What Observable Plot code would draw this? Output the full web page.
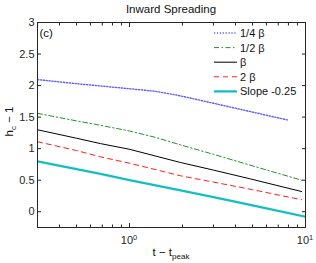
<!DOCTYPE html>
<html><head><meta charset="utf-8">
<script src="https://cdn.jsdelivr.net/npm/d3@7"></script>
<script src="https://cdn.jsdelivr.net/npm/@observablehq/plot@0.6"></script>
<style>body{margin:0;background:#fff}</style>
</head><body><div id="chart"></div>
<script>
// Data
const tQuarter = [0.3, 0.5, 1, 1.4, 1.85, 3, 5, 7.9];
const hQuarter = [2.095, 2.03, 1.95, 1.91, 1.85, 1.72, 1.58, 1.455];
const tHalf = [0.3, 0.5, 0.684, 1, 1.4, 1.95, 3, 5.92, 9.5];
const hHalf = [1.56, 1.44, 1.37, 1.28, 1.18, 1.06, 0.91, 0.667, 0.50];
const tBeta = [0.3, 0.5, 0.684, 1, 1.95, 3, 4.87, 9.5];
const hBeta = [1.30, 1.165, 1.08, 0.99, 0.78, 0.66, 0.52, 0.32];
const tTwo = [0.3, 0.5, 0.684, 1, 1.95, 3, 5, 9.5];
const hTwo = [1.11, 0.97, 0.87, 0.77, 0.57, 0.47, 0.35, 0.19];
const tSlope = [0.3, 0.684, 1, 1.95, 3, 5, 10];
const hSlope = [0.80, 0.60, 0.50, 0.34, 0.23, 0.10, -0.08];
const seriesNames = ["1/4 β", "1/2 β", "β", "2 β", "Slope -0.25"];
const xMajor = [1, 10];
const xMajorLabels = ["0", "1"];
const xMinor = [0.3, 0.4, 0.5, 0.6, 0.7, 0.8, 0.9, 2, 3, 4, 5, 6, 7, 8, 9];
const yTicks = [0, 0.5, 1, 1.5, 2, 2.5, 3];
const titleText = "Inward Spreading";
const panelText = "(c)";

const tArrs = [tQuarter, tHalf, tBeta, tTwo, tSlope];
const hArrs = [hQuarter, hHalf, hBeta, hTwo, hSlope];
const styles = [
  {stroke: "#5c5cff", strokeWidth: 1.4, strokeDasharray: "1.2,1.7"},
  {stroke: "#22922a", strokeWidth: 1, strokeDasharray: "5,2.5,1.5,2.5"},
  {stroke: "#000000", strokeWidth: 1},
  {stroke: "#ff2020", strokeWidth: 1, strokeDasharray: "5,4"},
  {stroke: "#14bfc0", strokeWidth: 2.3}
];
const series = seriesNames.map((name, k) => tArrs[k].map((t, i) => ({name, t, h: hArrs[k][i]})));
const axisColor = "#262626";

const chart = Plot.plot({
  width: 316, height: 263,
  marginLeft: 37, marginRight: 11, marginTop: 22, marginBottom: 36,
  style: {fontFamily: "'Liberation Sans', Arial, sans-serif", fontSize: "11px", color: axisColor, background: "#fff"},
  x: {type: "log", domain: [0.3, 10]},
  y: {domain: [-0.25, 3]},
  marks: [
    ...series.map((d, k) => Plot.line(d, {x: "t", y: "h", ...styles[k], clip: true})),
    Plot.frame({stroke: axisColor}),
    Plot.axisX(xMajor, {anchor: "bottom", tickSize: -4, tickPadding: 12, label: null, tickFormat: () => "", stroke: axisColor}),
    Plot.axisX(xMinor, {anchor: "bottom", tickSize: -2.5, label: null, tickFormat: () => "", stroke: axisColor}),
    Plot.axisX(xMajor, {anchor: "top", tickSize: -4, label: null, tickFormat: () => "", stroke: axisColor}),
    Plot.axisX(xMinor, {anchor: "top", tickSize: -2.5, label: null, tickFormat: () => "", stroke: axisColor}),
    Plot.axisY(yTicks, {anchor: "left", tickSize: -4, tickPadding: 7, label: null, tickFormat: d => String(d), stroke: axisColor}),
    Plot.axisY(yTicks, {anchor: "right", tickSize: -4, label: null, tickFormat: () => "", stroke: axisColor})
  ]
});
document.getElementById("chart").appendChild(chart);

// Text with super/subscripts and legend, added into the Plot SVG
const svg = d3.select(chart);
const xs = chart.scale("x"), ys = chart.scale("y");
const font = "'Liberation Sans', Arial, sans-serif";
const bottomY = ys.apply(-0.25);
const leftX = xs.apply(0.3), rightX = xs.apply(10), topY = ys.apply(3);
const cx = (leftX + rightX) / 2;

// x tick labels 10^0, 10^1
xMajor.forEach((v, i) => {
  const tx = svg.append("text").attr("x", xs.apply(v)).attr("y", bottomY + 17)
    .attr("text-anchor", "middle").attr("font-family", font).attr("font-size", 11).attr("fill", axisColor);
  tx.append("tspan").text("10");
  tx.append("tspan").attr("dy", -4.5).attr("font-size", 7.5).text(xMajorLabels[i]);
});

// title
svg.append("text").attr("x", cx).attr("y", 13).attr("text-anchor", "middle")
  .attr("font-family", font).attr("font-size", 11.5).attr("fill", "#111").text(titleText);

// panel label
svg.append("text").attr("x", leftX + 2.5).attr("y", topY + 15).attr("text-anchor", "start")
  .attr("font-family", font).attr("font-size", 11.5).attr("fill", "#111").text(panelText);

// x label
const xl = svg.append("text").attr("x", cx).attr("y", 256).attr("text-anchor", "middle")
  .attr("font-family", font).attr("font-size", 11.5).attr("fill", "#111");
xl.append("tspan").text("t − t");
xl.append("tspan").attr("dy", 2.5).attr("font-size", 8).text("peak");

// y label
const yl = svg.append("text").attr("transform", `translate(13,${(topY + bottomY) / 2 - 3}) rotate(-90)`)
  .attr("text-anchor", "middle").attr("font-family", font).attr("font-size", 11.5).attr("fill", "#111");
yl.append("tspan").text("h");
yl.append("tspan").attr("dy", 2.5).attr("font-size", 8).text("c");
yl.append("tspan").attr("dy", -2.5).text(" − 1");

// legend
const lg = svg.append("g");
seriesNames.forEach((name, k) => {
  const y = 33 + k * 14.6;
  lg.append("line").attr("x1", 214).attr("x2", 237).attr("y1", y).attr("y2", y)
    .attr("stroke", styles[k].stroke).attr("stroke-width", styles[k].strokeWidth)
    .attr("stroke-dasharray", styles[k].strokeDasharray || null);
  lg.append("text").attr("x", 240).attr("y", y + 4).attr("text-anchor", "start").attr("font-family", font)
    .attr("font-size", 11).attr("fill", "#111").text(name);
});
</script>
</body></html>
